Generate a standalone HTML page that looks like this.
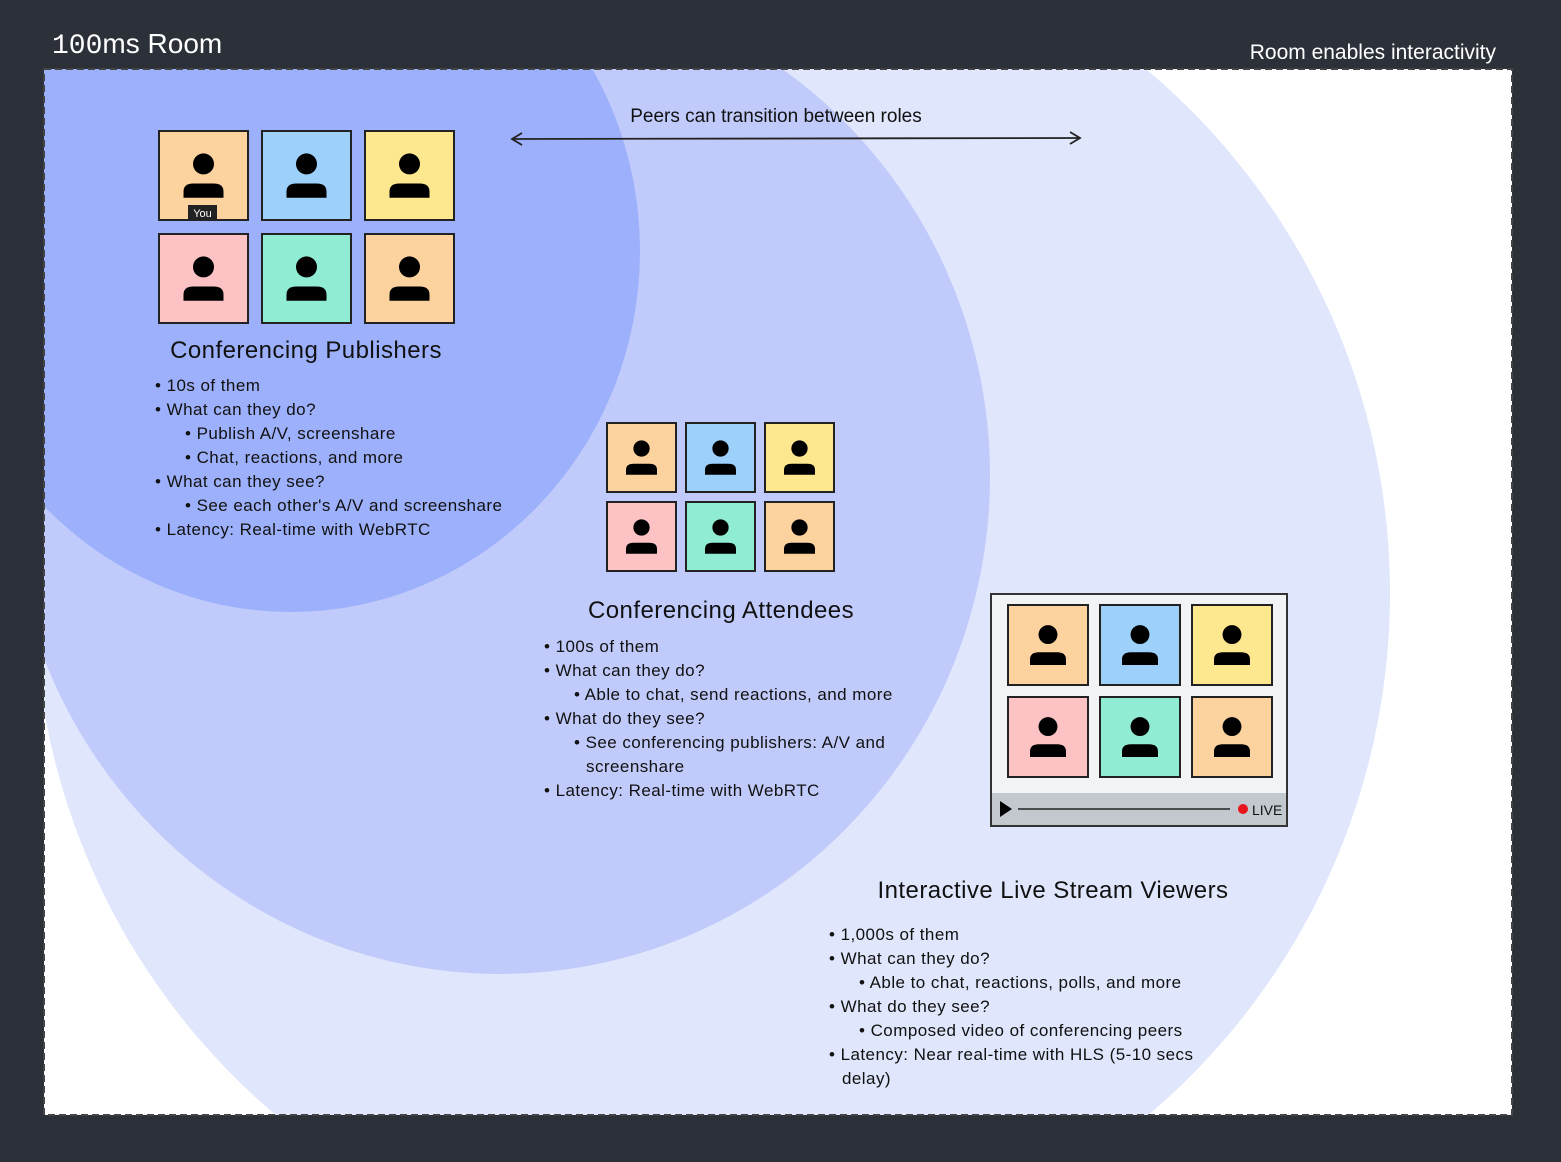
<!DOCTYPE html>
<html><head><meta charset="utf-8"><style>
html,body{margin:0;padding:0;background:#2b3039;width:1561px;height:1162px;overflow:hidden;}
svg{display:block;}
text{font-family:"Liberation Sans",sans-serif;}
.b{font-size:17px;fill:#111;letter-spacing:0.45px;}
.h{font-size:24px;fill:#111;letter-spacing:0.45px;}
</style></head><body>
<svg id="root" width="1561" height="1162" viewBox="0 0 1561 1162">
<defs><clipPath id="fr"><rect x="44" y="69" width="1468" height="1046"/></clipPath></defs>
<rect x="0" y="0" width="1561" height="1162" fill="#2b3039"/>
<text x="52" y="53" font-size="28" fill="#fff" style="font-family:'Liberation Sans',sans-serif"><tspan style="font-family:'Liberation Mono',monospace">100</tspan>ms Room</text>
<text x="1496" y="59" font-size="21" fill="#fff" text-anchor="end">Room enables interactivity</text>
<rect x="44" y="69" width="1468" height="1046" fill="#fff"/>
<g clip-path="url(#fr)">
<ellipse cx="712" cy="593" rx="678" ry="682" fill="#e0e6fc"/>
<ellipse cx="500" cy="476" rx="490" ry="498" fill="#c0cbfb"/>
<ellipse cx="291" cy="251" rx="349" ry="361" fill="#9db0fb"/>
</g>
<rect x="44" y="69" width="1468" height="1046" fill="none" stroke="#444" stroke-width="2" stroke-dasharray="7,4"/>
<text x="776" y="122" font-size="19" fill="#111" text-anchor="middle">Peers can transition between roles</text>
<g stroke="#222" stroke-width="1.8" fill="none">
<line x1="512" y1="139" x2="1080" y2="138"/>
<polyline points="522,133 512,139 522,145"/>
<polyline points="1070,132 1080,138 1070,144"/>
</g>
<rect x="991" y="594" width="296" height="232" fill="#f2f3f5" stroke="#333" stroke-width="2"/>
<rect x="992" y="793" width="294" height="32" fill="#c3c8ce"/>
<polygon points="1000,801 1000,817 1012,809" fill="#000"/>
<line x1="1018" y1="809" x2="1230" y2="809" stroke="#222" stroke-width="1.5"/>
<circle cx="1243" cy="809" r="5" fill="#e8141b"/>
<text x="1252" y="815" font-size="14" fill="#111">LIVE</text>
<g id="tiles"></g>
<g id="texts"></g>
</svg>
<script>
const tileColors=["#fcd39f","#9dd1fc","#fde88f","#fdc3c4","#90edd4","#fcd39f"];
const grids=[{x:159,y:131,s:89,gx:103,gy:103,name:"publisher"},{x:607,y:423,s:69,gx:79,gy:79,name:"attendee"},{x:1008,y:605,s:80,gx:92,gy:92,name:"stream"}];
const NS="http://www.w3.org/2000/svg";
const tg=document.getElementById('tiles');
function mk(t,a,p){const e=document.createElementNS(NS,t);for(const k in a)e.setAttribute(k,a[k]);(p||tg).appendChild(e);return e;}
grids.forEach(g=>{
  tileColors.forEach((c,i)=>{
    const x=g.x+(i%3)*g.gx,y=g.y+Math.floor(i/3)*g.gy,s=g.s;
    const grp=mk('g',{});
    
    
    mk('rect',{x:x,y:y,width:s,height:s,fill:c,stroke:'#222','stroke-width':2},grp);
    const cx=x+s/2,k=s/89;
    mk('circle',{cx:cx,cy:y+s*0.37,r:10.5*k,fill:'#000'},grp);
    mk('path',{d:`M${cx-20*k},${y+s*0.75} L${cx-20*k},${y+s*0.68} Q${cx-20*k},${y+s*0.59} ${cx-10*k},${y+s*0.59} L${cx+10*k},${y+s*0.59} Q${cx+20*k},${y+s*0.59} ${cx+20*k},${y+s*0.68} L${cx+20*k},${y+s*0.75} Z`,fill:'#000'},grp);
    if(g.name==='publisher'&&i===0){
      mk('rect',{x:188,y:205,width:29,height:15,fill:'#222'},grp);
      const t=mk('text',{x:202.5,y:217,'font-size':11,fill:'#fff','text-anchor':'middle'},grp);t.textContent='You';
    }
  });
});
const blocks=[
 {title:"Conferencing Publishers",tx:306,ty:358,x:155,y:391,lines:[[0,"10s of them"],[0,"What can they do?"],[1,"Publish A/V, screenshare"],[1,"Chat, reactions, and more"],[0,"What can they see?"],[1,"See each other's A/V and screenshare"],[0,"Latency: Real-time with WebRTC"]]},
 {title:"Conferencing Attendees",tx:721,ty:618,x:544,y:652,lines:[[0,"100s of them"],[0,"What can they do?"],[1,"Able to chat, send reactions, and more"],[0,"What do they see?"],[1,"See conferencing publishers: A/V and"],[2,"screenshare"],[0,"Latency: Real-time with WebRTC"]]},
 {title:"Interactive Live Stream Viewers",tx:1053,ty:898,x:829,y:940,lines:[[0,"1,000s of them"],[0,"What can they do?"],[1,"Able to chat, reactions, polls, and more"],[0,"What do they see?"],[1,"Composed video of conferencing peers"],[0,"Latency: Near real-time with HLS (5-10 secs"],[3,"delay)"]]}
];
const tx=document.getElementById('texts');
blocks.forEach(b=>{
  const h=mk('text',{x:b.tx,y:b.ty,'class':'h','text-anchor':'middle'},tx);
  h.textContent=b.title;
  
  
  b.lines.forEach((l,i)=>{
    const lvl=l[0];
    const xo=lvl===0?0:lvl===1?30:lvl===2?42:13;
    const pre=(lvl===0||lvl===1)?"• ":"";
    const t=mk('text',{x:b.x+xo,y:b.y+i*24,'class':'b'},tx);
    t.textContent=pre+l[1];
    
    
  });
});
</script>
</body></html>
